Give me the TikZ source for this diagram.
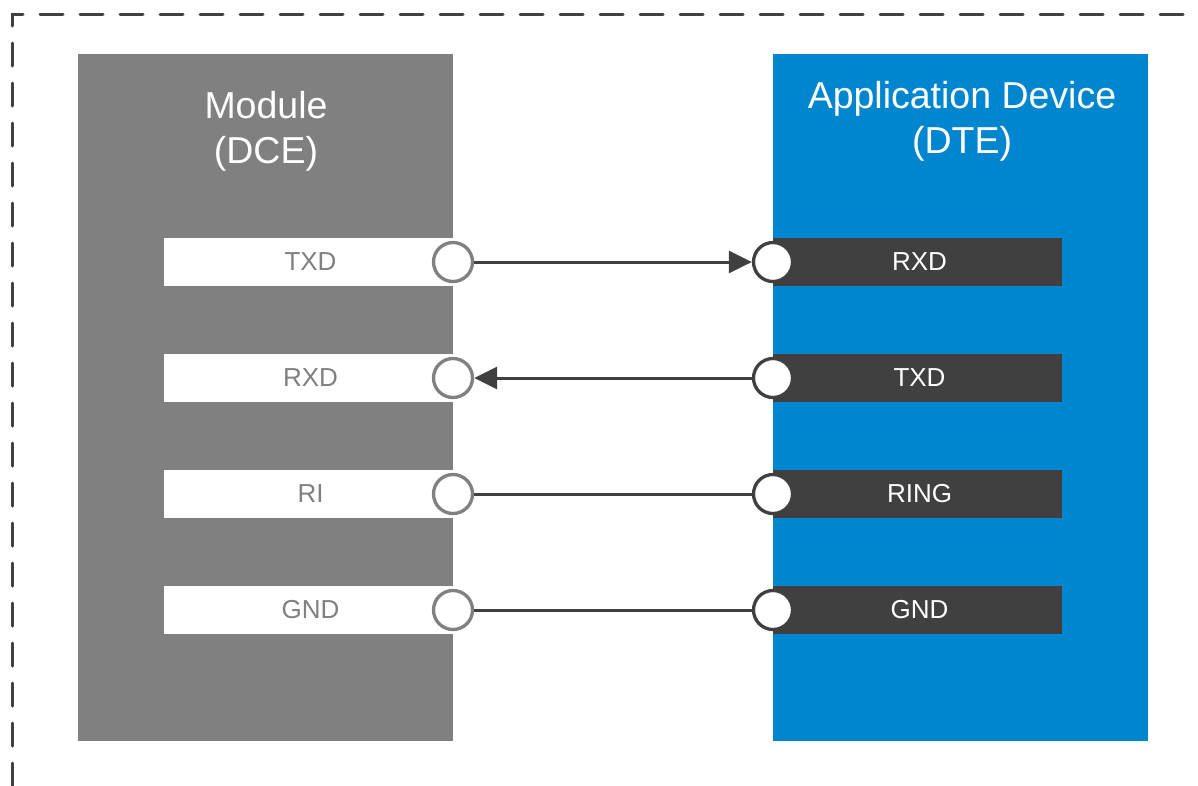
\documentclass[tikz,border=0pt]{standalone}
\usepackage{fontspec}
\setmainfont{Liberation Sans}
\usetikzlibrary{arrows.meta}

\definecolor{modgray}{HTML}{808080}
\definecolor{appblue}{HTML}{0085CF}
\definecolor{pindark}{HTML}{404040}

\tikzset{
  frame/.style={draw=pindark, line width=3pt, line cap=round, dash pattern=on 23pt off 17pt},
  block/.style={inner sep=0pt, minimum width=375pt, minimum height=687pt, anchor=north west},
  title/.style={anchor=base, text=white, inner sep=0pt, font=\fontsize{37.5}{45}\selectfont},
  pinbar/.style={inner sep=0pt, minimum width=289pt, minimum height=48pt, font=\fontsize{26}{31}\selectfont},
  lbar/.style={pinbar, fill=white, text=modgray},
  rbar/.style={pinbar, fill=pindark, text=white},
  pin/.style={circle, fill=white, line width=3.3pt, minimum size=39pt, inner sep=0pt},
  lpin/.style={pin, draw=modgray},
  rpin/.style={pin, draw=pindark},
  wire/.style={draw=pindark, line width=3pt},
  tip/.style={-{Triangle[length=23pt,width=22pt]}}
}

\begin{document}
\begin{tikzpicture}[x=1pt,y=-1pt]
\useasboundingbox (0,0) rectangle (1198,785);
\clip (0,0) rectangle (1198,785);
\fill[white] (0,0) rectangle (1198,785);

% outer dashed boundary (continues past the right and bottom edges)
\draw[frame] (12,26) -- (12,14) -- (1240,14);
\draw[frame, dash phase=23pt] (12,26) -- (12,820);

% the two devices
\node[block, fill=modgray] (module) at (78,54) {};
\node[block, fill=appblue] (app) at (773,54) {};

\node[title] (modname) at (266,118) {Module};
\node[title] (modrole) at (266,163) {(DCE)};
\node[title] (appname) at (962,108) {Application Device};
\node[title] (approle) at (962,153) {(DTE)};

% module side signal bars
\node[lbar] (ltxd) at (308.5,262) {\hspace{4pt}TXD};
\node[lbar] (lrxd) at (308.5,378) {\hspace{4pt}RXD};
\node[lbar] (lri)  at (308.5,494) {\hspace{4pt}RI};
\node[lbar] (lgnd) at (308.5,610) {\hspace{4pt}GND};

% application side signal bars
\node[rbar] (rrxd)  at (917.5,262) {\hspace{4pt}RXD};
\node[rbar] (rtxd)  at (917.5,378) {\hspace{4pt}TXD};
\node[rbar] (rring) at (917.5,494) {\hspace{4pt}RING};
\node[rbar] (rgnd)  at (917.5,610) {\hspace{4pt}GND};

% pins
\node[lpin] (ltxdp) at (453,262) {};
\node[lpin] (lrxdp) at (453,378) {};
\node[lpin] (lrip)  at (453,494) {};
\node[lpin] (lgndp) at (453,610) {};

\node[rpin] (rrxdp)  at (773,262) {};
\node[rpin] (rtxdp)  at (773,378) {};
\node[rpin] (rringp) at (773,494) {};
\node[rpin] (rgndp)  at (773,610) {};

% connections
\draw[wire, tip] (ltxdp) -- (rrxdp);
\draw[wire, tip] (rtxdp) -- (lrxdp);
\draw[wire] (lrip) -- (rringp);
\draw[wire] (lgndp) -- (rgndp);
\end{tikzpicture}
\end{document}
